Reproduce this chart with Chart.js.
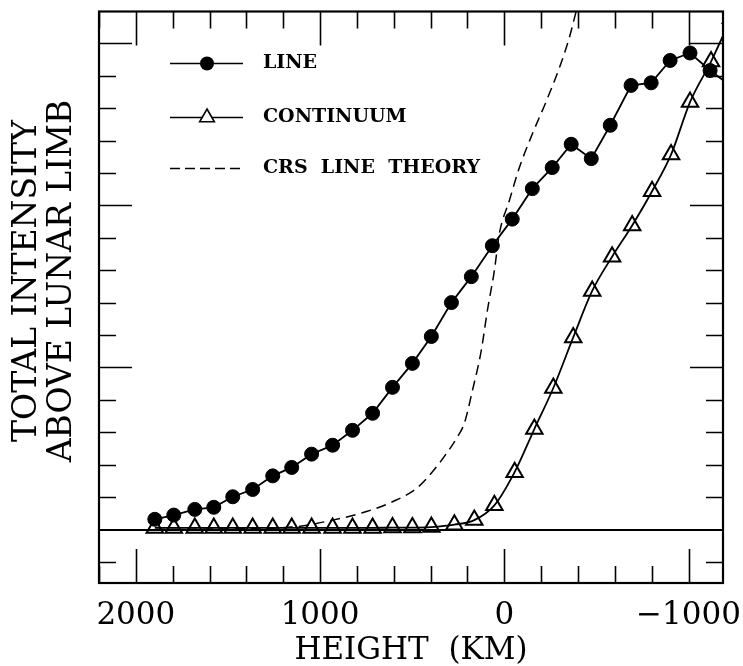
<!DOCTYPE html>
<html>
<head>
<meta charset="utf-8">
<script src="https://cdn.jsdelivr.net/npm/chart.js@4.4.0/dist/chart.umd.min.js"></script>
<style>
    html, body { margin: 0; padding: 0; background: #fff; }
</style>
</head>
<body>
<canvas id="limbChart" width="743" height="666"></canvas>
<script>
// height above the limb (km) and total intensity
var lineHeights = [1897, 1794, 1680, 1577, 1474, 1366, 1257, 1154, 1046, 932, 824, 715, 607, 499, 396, 287, 179, 65, -43, -152, -260, -363, -472, -575, -688, -797, -900, -1008, -1117, -1225];
var lineIntensity = [0.063, 0.089, 0.124, 0.137, 0.202, 0.247, 0.331, 0.383, 0.465, 0.52, 0.612, 0.717, 0.877, 1.025, 1.191, 1.40, 1.56, 1.751, 1.915, 2.103, 2.233, 2.377, 2.288, 2.494, 2.74, 2.756, 2.894, 2.94, 2.832, 2.741];

var contHeights = [1897, 1794, 1680, 1577, 1474, 1366, 1257, 1154, 1046, 932, 824, 715, 607, 499, 396, 271, 163, 54, -56, -163, -266, -374, -477, -585, -694, -802, -905, -1008, -1122, -1230];
var contIntensity = [0.01, 0.01, 0.01, 0.01, 0.01, 0.01, 0.01, 0.01, 0.01, 0.01, 0.01, 0.01, 0.012, 0.012, 0.015, 0.03, 0.058, 0.149, 0.354, 0.62, 0.873, 1.185, 1.472, 1.683, 1.876, 2.087, 2.313, 2.637, 2.887, 3.154];

var theoryHeights = [1897, 1545, 1149, 932, 748, 607, 477, 390, 314, 255, 217, 173, 125, 92, 54, 27, -27, -81, -152, -228, -298, -352, -390, -434];
var theoryIntensity = [0.0, 0.003, 0.015, 0.058, 0.111, 0.171, 0.254, 0.356, 0.469, 0.571, 0.655, 0.858, 1.105, 1.351, 1.597, 1.825, 2.028, 2.231, 2.44, 2.643, 2.846, 3.031, 3.197, 3.38];

var xTickValues = [2000, 1000, 0, -1000];
var seriesNames = ["LINE", "CONTINUUM", "CRS  LINE  THEORY"];
var yTitleLines = ["TOTAL INTENSITY", "ABOVE LUNAR LIMB"];
var xTitle = "HEIGHT  (KM)";

const serif = "'DejaVu Serif', serif";

function toPoints(xs, ys) {
    return xs.map((h, i) => ({ x: h, y: ys[i] }));
}

// frame, inward ticks on all four sides and the zero line
const frameTicks = {
    id: 'frameTicks',
    beforeDatasetsDraw(chart) {
        const { ctx, chartArea: a, scales: { x, y } } = chart;
        ctx.save();
        ctx.strokeStyle = '#000';
        ctx.lineWidth = 1.6;
        ctx.beginPath();
        for (let k = Math.ceil(x.min / 200); k <= Math.floor(x.max / 200); k++) {
            let v = k * 200;
            let px = Math.round(x.getPixelForValue(v)) + 0.5;
            let len = v % 1000 === 0 ? 34 : 17;
            ctx.moveTo(px, a.bottom); ctx.lineTo(px, a.bottom - len);
            ctx.moveTo(px, a.top); ctx.lineTo(px, a.top + len);
        }
        for (let k = Math.ceil(y.min * 5); k <= Math.floor(y.max * 5); k++) {
            if (k === 0) continue;
            let py = Math.round(y.getPixelForValue(k / 5)) + 0.5;
            let len = k % 5 === 0 ? 33 : 17;
            ctx.moveTo(a.left, py); ctx.lineTo(a.left + len, py);
            ctx.moveTo(a.right, py); ctx.lineTo(a.right - len, py);
        }
        ctx.stroke();

        ctx.lineWidth = 2;
        let zy = Math.round(y.getPixelForValue(0));
        ctx.beginPath();
        ctx.moveTo(a.left, zy); ctx.lineTo(a.right, zy);
        ctx.stroke();

        ctx.lineWidth = 2.2;
        ctx.strokeRect(a.left, a.top, a.right - a.left, a.bottom - a.top);
        ctx.restore();
    }
};

// legend in the upper left corner of the plot
const keyBox = {
    id: 'keyBox',
    afterDatasetsDraw(chart) {
        const { ctx, chartArea: a } = chart;
        let x0 = a.left + 71, x1 = a.left + 144, xm = a.left + 108, tx = a.left + 164;
        let rows = [a.top + 52, a.top + 106, a.top + 157];
        ctx.save();
        ctx.strokeStyle = '#000';
        ctx.fillStyle = '#000';
        ctx.lineWidth = 1.6;

        ctx.beginPath();
        ctx.moveTo(x0, rows[0]); ctx.lineTo(x1, rows[0]);
        ctx.moveTo(x0, rows[1]); ctx.lineTo(x1, rows[1]);
        ctx.stroke();
        ctx.beginPath();
        ctx.arc(xm, rows[0], 7, 0, Math.PI * 2);
        ctx.fill();

        let r = 8.5;
        ctx.beginPath();
        ctx.moveTo(xm, rows[1] - r);
        ctx.lineTo(xm + r * 0.866, rows[1] + r / 2);
        ctx.lineTo(xm - r * 0.866, rows[1] + r / 2);
        ctx.closePath();
        ctx.fillStyle = '#fff';
        ctx.fill();
        ctx.stroke();

        ctx.setLineDash([10, 5]);
        ctx.beginPath();
        ctx.moveTo(x0, rows[2]); ctx.lineTo(x1, rows[2]);
        ctx.stroke();
        ctx.setLineDash([]);

        ctx.fillStyle = '#000';
        ctx.font = "bold 19px " + serif;
        ctx.textBaseline = 'middle';
        seriesNames.forEach((name, i) => ctx.fillText(name, tx, rows[i]));
        ctx.restore();
    }
};

// two-line rotated y title
const yTitle = {
    id: 'yTitle',
    afterDraw(chart) {
        const { ctx } = chart;
        ctx.save();
        ctx.fillStyle = '#000';
        ctx.font = "33px " + serif;
        ctx.textAlign = 'center';
        ctx.textBaseline = 'middle';
        ctx.translate(0, 281);
        ctx.rotate(-Math.PI / 2);
        ctx.fillText(yTitleLines[0], 0, 27);
        ctx.fillText(yTitleLines[1], 0, 62);
        ctx.restore();
    }
};

var limbChart = new Chart(document.getElementById('limbChart'), {
    type: 'line',
    data: {
        datasets: [
            {
                label: seriesNames[0],
                data: toPoints(lineHeights, lineIntensity),
                borderColor: '#000',
                borderWidth: 1.8,
                pointStyle: 'circle',
                pointRadius: 7,
                pointBackgroundColor: '#000',
                pointBorderColor: '#000',
                pointBorderWidth: 1,
                tension: 0
            },
            {
                label: seriesNames[1],
                data: toPoints(contHeights, contIntensity),
                borderColor: '#000',
                borderWidth: 1.8,
                pointStyle: 'triangle',
                pointRadius: 9.5,
                pointBackgroundColor: 'rgba(255,255,255,0)',
                pointBorderColor: '#000',
                pointBorderWidth: 2,
                cubicInterpolationMode: 'monotone'
            },
            {
                label: seriesNames[2],
                data: toPoints(theoryHeights, theoryIntensity),
                borderColor: '#000',
                borderWidth: 1.5,
                borderDash: [10, 6],
                pointRadius: 0,
                cubicInterpolationMode: 'monotone'
            }
        ]
    },
    options: {
        responsive: false,
        animation: false,
        events: [],
        layout: { padding: { top: 10, right: 20, left: 0, bottom: 0 } },
        plugins: {
            legend: { display: false },
            tooltip: { enabled: false }
        },
        scales: {
            x: {
                type: 'linear',
                reverse: true,
                min: -1187,
                max: 2200,
                grid: { display: false, drawTicks: false },
                border: { display: false },
                afterBuildTicks: (scale) => {
                    scale.ticks = xTickValues.map(v => ({ value: v }));
                },
                afterFit: (scale) => {
                    scale.height = 83;
                    scale.paddingLeft = 0;
                    scale.paddingRight = 0;
                },
                ticks: {
                    color: '#000',
                    font: { family: serif, size: 31 },
                    padding: 14,
                    maxRotation: 0,
                    callback: (v) => v < 0 ? '\u2212' + Math.abs(v) : String(v)
                },
                title: {
                    display: true,
                    text: xTitle,
                    color: '#000',
                    font: { family: serif, size: 31, lineHeight: 0.95 },
                    padding: { top: 0, bottom: 0 }
                }
            },
            y: {
                type: 'linear',
                min: -0.33,
                max: 3.196,
                grid: { display: false, drawTicks: false },
                border: { display: false },
                ticks: { display: false },
                afterFit: (scale) => { scale.width = 99; }
            }
        }
    },
    plugins: [frameTicks, keyBox, yTitle]
});
</script>
</body>
</html>
